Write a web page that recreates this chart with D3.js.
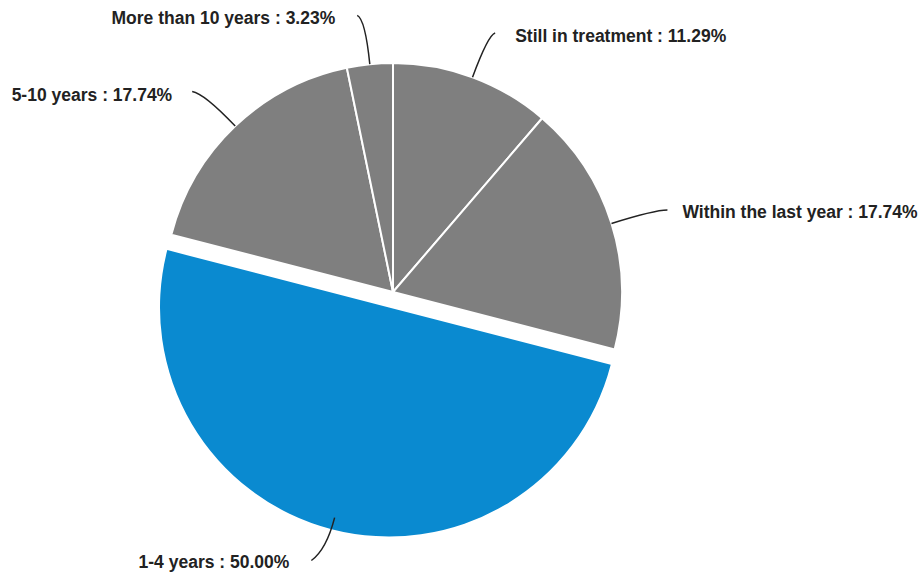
<!DOCTYPE html>
<html>
<head>
<meta charset="utf-8">
<script src="https://cdn.jsdelivr.net/npm/d3@7"></script>
<style>
  body { margin: 0; background: #fff; }
  .label { font-family: "Liberation Sans", Arial, sans-serif; font-weight: bold; font-size: 17.5px; fill: #222; }
</style>
</head>
<body>
<div id="chart"></div>
<script>
const width = 923;
const height = 573;

// slices, clockwise from 12 o'clock
const categories = ["Still in treatment", "Within the last year", "1-4 years", "5-10 years", "More than 10 years"];
const percents = [11.29, 17.74, 50.00, 17.74, 3.23];
const highlighted = "1-4 years";

// leader line settings per slice: extra length past the rim, hook, label gap
const leaders = {
  "Still in treatment":   { start: 0,   len: 45, hx: 7,   hy: -2, gap: 20, dy: 9 },
  "Within the last year": { start: 0,   len: 45, hx: 13,  hy: 0,  gap: 15, dy: 8 },
  "1-4 years":            { start: -12, len: 21, hx: -15, hy: 11, gap: 22, dy: 7 },
  "5-10 years":           { start: 0,   len: 45, hx: -12, hy: -2, gap: 20, dy: 10 },
  "More than 10 years":   { start: 0,   len: 45, hx: -8,  hy: -4, gap: 22, dy: 9 }
};

const cx = 393, cy = 292, radius = 229, explode = 16;

const data = categories.map((c, i) => ({ name: c, value: percents[i] }));

const svg = d3.select("#chart").append("svg")
  .attr("width", width)
  .attr("height", height);

const pie = d3.pie().sort(null).value(d => d.value);
const arc = d3.arc().innerRadius(0).outerRadius(radius);
const arcs = pie(data);

const g = svg.append("g").attr("transform", `translate(${cx},${cy})`);

function midAngle(d) { return (d.startAngle + d.endAngle) / 2; }
function offsetOf(d) {
  if (d.data.name !== highlighted) return [0, 0];
  const a = midAngle(d);
  return [explode * Math.sin(a), -explode * Math.cos(a)];
}

g.selectAll(".slice")
  .data(arcs)
  .enter()
  .append("path")
  .attr("class", "slice")
  .attr("d", arc)
  .attr("transform", d => `translate(${offsetOf(d)})`)
  .attr("fill", d => d.data.name === highlighted ? "#0a8ad0" : "#7f7f7f")
  .attr("stroke", d => d.data.name === highlighted ? "none" : "#fff")
  .attr("stroke-width", 2);

// leader lines and labels
arcs.forEach(d => {
  const L = leaders[d.data.name];
  const a = midAngle(d);
  const dir = [Math.sin(a), -Math.cos(a)];
  const off = offsetOf(d);
  const p0 = [off[0] + dir[0] * (radius + L.start), off[1] + dir[1] * (radius + L.start)];
  const p1 = [off[0] + dir[0] * (radius + L.len), off[1] + dir[1] * (radius + L.len)];
  const p2 = [p1[0] + L.hx, p1[1] + L.hy];

  g.append("path")
    .attr("d", `M${p0}Q${p1} ${p2}`)
    .attr("fill", "none")
    .attr("stroke", "#222")
    .attr("stroke-width", 1.5);

  const right = L.hx > 0;
  g.append("text")
    .attr("class", "label")
    .attr("x", p2[0] + (right ? L.gap : -L.gap))
    .attr("y", p2[1] + L.dy)
    .attr("text-anchor", right ? "start" : "end")
    .text(`${d.data.name} : ${d.data.value.toFixed(2)}%`);
});
</script>
</body>
</html>
